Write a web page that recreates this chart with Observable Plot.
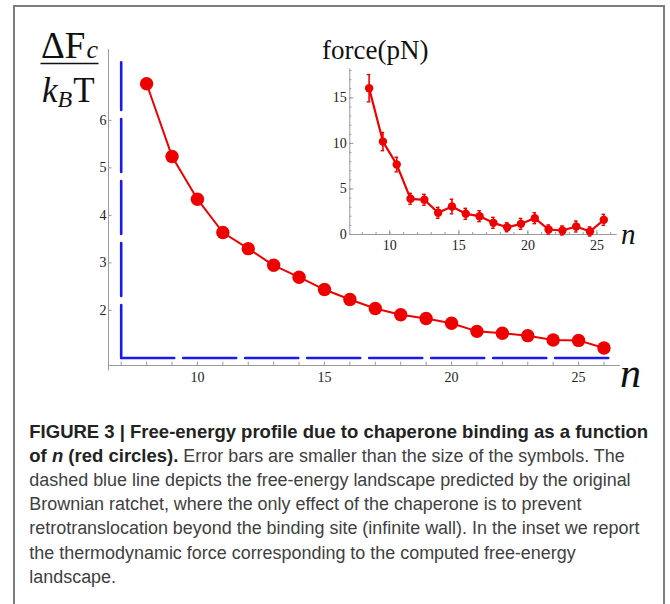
<!DOCTYPE html>
<html><head><meta charset="utf-8">
<script src="https://cdn.jsdelivr.net/npm/d3@7"></script>
<script src="https://cdn.jsdelivr.net/npm/@observablehq/plot@0.6"></script>
<style>
html,body{margin:0;padding:0;background:#fff;width:670px;height:604px;overflow:hidden;}
#frame{position:absolute;left:13px;top:5px;width:652px;height:700px;border:2px solid #7d7d7d;border-bottom:none;box-sizing:border-box;}
.layer{position:absolute;left:0;top:0;}
</style></head><body>
<div id="frame"></div>
<div id="main" class="layer"></div>
<div id="inset" class="layer"></div>
<div id="cap" class="layer"></div>
<script>
// ---- main panel data ----
const nMain = [8, 9, 10, 11, 12, 13, 14, 15, 16, 17, 18, 19, 20, 21, 22, 23, 24, 25, 26];
const energy = [6.77, 5.24, 4.34, 3.64, 3.30, 2.95, 2.70, 2.44, 2.23, 2.04, 1.91, 1.83, 1.73, 1.56, 1.52, 1.47, 1.38, 1.37, 1.21];
const wallCorner = [7, 1.0];
const wallTop = [7, 7.22];
const wallEnd = [26.35, 1.0];
const mainXTicks = [10, 15, 20, 25];
const mainXMinor = [7, 8, 9, 10, 11, 12, 13, 14, 15, 16, 17, 18, 19, 20, 21, 22, 23, 24, 25, 26];
const mainYTicks = [2, 3, 4, 5, 6];
// ---- inset data ----
const nForce = [8.5, 9.5, 10.5, 11.5, 12.5, 13.5, 14.5, 15.5, 16.5, 17.5, 18.5, 19.5, 20.5, 21.5, 22.5, 23.5, 24.5, 25.5];
const force = [16.06, 10.2, 7.68, 3.92, 3.81, 2.38, 3.07, 2.27, 2.01, 1.28, 0.80, 1.17, 1.79, 0.55, 0.44, 0.88, 0.33, 1.61];
const forceErr = [1.5, 1.0, 0.8, 0.6, 0.6, 0.6, 0.8, 0.6, 0.6, 0.6, 0.5, 0.6, 0.6, 0.5, 0.5, 0.6, 0.5, 0.6];
const insetXTicks = [10, 15, 20, 25];
const insetXMinor = [8, 9, 10, 11, 12, 13, 14, 15, 16, 17, 18, 19, 20, 21, 22, 23, 24, 25, 26];
const insetYTicks = [0, 5, 10, 15];
const insetYMinor = [1, 2, 3, 4, 5, 6, 7, 8, 9, 10, 11, 12, 13, 14, 15, 16, 17, 18];
// ---- texts ----
const insetTitle = "force(pN)";
const captionLines = [
  [["b", "FIGURE 3 | Free-energy profile due to chaperone binding as a function"]],
  [["b", "of "], ["bi", "n"], ["b", " (red circles)."], ["r", " Error bars are smaller than the size of the symbols. The"]],
  [["r", "dashed blue line depicts the free-energy landscape predicted by the original"]],
  [["r", "Brownian ratchet, where the only effect of the chaperone is to prevent"]],
  [["r", "retrotranslocation beyond the binding site (infinite wall). In the inset we report"]],
  [["r", "the thermodynamic force corresponding to the computed free-energy"]],
  [["r", "landscape."]]
];

const serif = "'Liberation Serif','Times New Roman',serif";
const sans = "'Liberation Sans',Arial,Helvetica,sans-serif";
const axisGray = "#9a9a9a";
const red = "#ee0000";
const blue = "#1a1aee";

// ---------- main plot ----------
const xDom = [6.5, 26.65], yDom = [0.842, 7.49];
const main = Plot.plot({
  width: 670, height: 400,
  marginLeft: 108, marginRight: 50, marginTop: 49, marginBottom: 35,
  style: {background: "transparent", overflow: "visible"},
  x: {domain: xDom, axis: null},
  y: {domain: yDom, axis: null},
  marks: [
    Plot.ruleY([yDom[0]], {x1: xDom[0], x2: xDom[1], stroke: axisGray, strokeWidth: 1}),
    Plot.ruleX([xDom[0]], {y1: yDom[0] - 0.11, y2: yDom[1], stroke: axisGray, strokeWidth: 1}),
    Plot.ruleX(mainXMinor, {x: d => d, y1: yDom[0], y2: yDom[0] + 0.07, stroke: axisGray}),
    Plot.ruleY(mainYTicks, {y: d => d, x1: xDom[0], x2: xDom[0] + 0.14, stroke: axisGray}),
    Plot.text(mainXTicks, {x: d => d, y: yDom[0], dy: 12, text: d => String(d), fontSize: "14px", fontFamily: serif, fill: "#222"}),
    Plot.text(mainYTicks, {x: xDom[0], y: d => d, dx: -2, textAnchor: "end", text: d => String(d), fontSize: "14px", fontFamily: serif, fill: "#222"}),
    Plot.line([wallCorner, wallTop], {x: d => d[0], y: d => d[1], stroke: blue, strokeWidth: 2.6, strokeDasharray: "53,9"}),
    Plot.line([wallCorner, wallEnd], {x: d => d[0], y: d => d[1], stroke: blue, strokeWidth: 2.6, strokeDasharray: "53,9"}),
    Plot.line(nMain, {x: d => d, y: (d, i) => energy[i], stroke: red, strokeWidth: 2}),
    Plot.dot(nMain, {x: d => d, y: (d, i) => energy[i], r: 6.7, fill: red, stroke: "none"})
  ]
});
document.getElementById("main").appendChild(main);
{
  const s = d3.select(main);
  const g = s.append("g").attr("font-family", serif).attr("fill", "#111").attr("text-anchor", "start");
  const t1 = g.append("text").attr("x", 41).attr("y", 58).attr("font-size", 37);
  t1.append("tspan").text("ΔF");
  t1.append("tspan").attr("font-style", "italic").attr("font-size", 26).attr("dx", 1).text("c");
  g.append("line").attr("x1", 40.5).attr("x2", 98.5).attr("y1", 63.5).attr("y2", 63.5).attr("stroke", "#111").attr("stroke-width", 1.6);
  const t2 = g.append("text").attr("x", 42).attr("y", 101.5).attr("font-size", 35);
  t2.append("tspan").attr("font-style", "italic").text("k");
  t2.append("tspan").attr("font-style", "italic").attr("font-size", 24).attr("dy", 5).text("B");
  t2.append("tspan").attr("dy", -5).attr("dx", 1).text("T");
  g.append("text").attr("x", 620).attr("y", 386.5).attr("font-size", 42).attr("font-style", "italic").text("n");
}

// ---------- inset plot ----------
const ixDom = [7.1, 26.47], iyDom = [0, 18.19];
const fData = nForce.map((n, i) => ({n, f: force[i], e: forceErr[i]}));
const inset = Plot.plot({
  width: 670, height: 400,
  marginLeft: 349.3, marginRight: 53.3, marginTop: 68.3, marginBottom: 166,
  style: {background: "transparent", overflow: "visible"},
  x: {domain: ixDom, axis: null},
  y: {domain: iyDom, axis: null},
  marks: [
    Plot.ruleY([0], {x1: ixDom[0], x2: ixDom[1], stroke: axisGray, strokeWidth: 1}),
    Plot.ruleX([ixDom[0]], {y1: 0, y2: iyDom[1], stroke: axisGray, strokeWidth: 1}),
    Plot.ruleX(insetXMinor, {x: d => d, y1: 0, y2: 0.22, stroke: axisGray}),
    Plot.ruleX(insetXTicks, {x: d => d, y1: 0, y2: 0.45, stroke: axisGray}),
    Plot.ruleY(insetYMinor, {y: d => d, x1: ixDom[0], x2: ixDom[0] + 0.15, stroke: axisGray}),
    Plot.ruleY(insetYTicks, {y: d => d, x1: ixDom[0], x2: ixDom[0] + 0.3, stroke: axisGray}),
    Plot.text(insetXTicks, {x: d => d, y: 0, dy: 11, text: d => String(d), fontSize: "14px", fontFamily: serif, fill: "#222"}),
    Plot.text(insetYTicks, {x: ixDom[0], y: d => d, dx: -3, textAnchor: "end", text: d => String(d), fontSize: "14px", fontFamily: serif, fill: "#222"}),
    Plot.line(fData, {x: "n", y: "f", stroke: red, strokeWidth: 2.2}),
    Plot.ruleX(fData, {x: "n", y1: d => d.f - d.e, y2: d => d.f + d.e, stroke: red, strokeWidth: 1.6}),
    Plot.ruleY(fData, {y: d => d.f + d.e, x1: d => d.n - 0.13, x2: d => d.n + 0.13, stroke: red, strokeWidth: 1.4}),
    Plot.ruleY(fData, {y: d => d.f - d.e, x1: d => d.n - 0.13, x2: d => d.n + 0.13, stroke: red, strokeWidth: 1.4}),
    Plot.dot(fData, {x: "n", y: "f", r: 4.2, fill: red, stroke: "none"})
  ]
});
document.getElementById("inset").appendChild(inset);
{
  const s = d3.select(inset);
  s.append("text").attr("x", 322).attr("y", 59).attr("text-anchor", "start").attr("font-family", serif).attr("font-size", 27).attr("fill", "#111").text(insetTitle);
  s.append("text").attr("x", 621).attr("y", 243.5).attr("text-anchor", "start").attr("font-family", serif).attr("font-size", 29).attr("font-style", "italic").attr("fill", "#111").text("n");
}

// ---------- caption ----------
{
  const svg = d3.select("#cap").append("svg").attr("width", 670).attr("height", 604).style("display", "block");
  const x0 = 29.3, b0 = 437.5, pitch = 24.2;
  const texts = captionLines.map((parts, li) => {
    const t = svg.append("text").attr("x", x0).attr("y", b0 + li * pitch).attr("font-family", sans);
    parts.forEach(([k, str]) => {
      const sp = t.append("tspan").attr("class", k).text(str);
      if (k !== "r") sp.attr("font-weight", "bold").attr("fill", "#222");
      else sp.attr("fill", "#404040");
      if (k === "bi") sp.attr("font-style", "italic");
    });
    return t;
  });
  svg.selectAll("tspan.b,tspan.bi").attr("font-size", 16);
  svg.selectAll("tspan.r").attr("font-size", 16);
  const wb = texts[0].node().getComputedTextLength();
  const wr = texts[2].node().getComputedTextLength();
  const fb = 16 * 619 / wb, fr = 16 * 602 / wr;
  svg.selectAll("tspan.b,tspan.bi").attr("font-size", fb);
  svg.selectAll("tspan.r").attr("font-size", fr);
}
</script>
</body></html>
